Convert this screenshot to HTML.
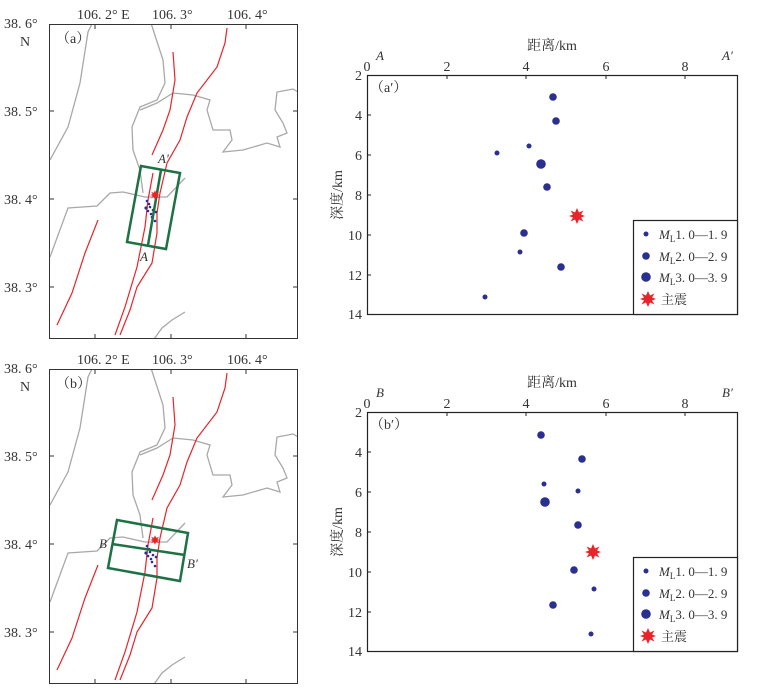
<!DOCTYPE html>
<html><head><meta charset="utf-8"><style>
body{margin:0;background:#fff;}
svg{display:block;font-family:"Liberation Serif","Noto Serif CJK SC",serif;}
</style></head><body>
<svg width="768" height="690" viewBox="0 0 768 690" xmlns="http://www.w3.org/2000/svg">
<defs>
<clipPath id="mc"><rect x="50" y="24" width="248" height="315"/></clipPath>
<g id="map">
  <g clip-path="url(#mc)">
  <g fill="none" stroke="#a8a8a8" stroke-width="1.3">
    <polyline points="94,20 88,32 80,83 68,127 50,160"/>
    <polyline points="150,20 163,60 165,83 157,100 140,107 132,127 133,150 140,170 143,193"/>
    <polyline points="50,257 68,208 97,206 110,193 123,192 145,197 167,197 185,178"/>
    <polyline points="140,110 157,103 173,93 193,95 210,100 207,110 213,130 230,130 232,140 223,152 243,150 267,143 280,147 277,137 287,133 283,123 275,110 277,92 293,89 298,92"/>
    <polyline points="152,342 162,328 172,320 185,312"/>
  </g>
  <g fill="none" stroke="#e8232a" stroke-width="1.2">
    <polyline points="173,52 175,80 170,110 163,130 152,155"/>
    <polyline points="227,28 225,43 217,67 197,93 187,117 180,140 167,163 160,193 157,213 157,233 152,263 137,287 130,310 120,335"/>
    <polyline points="153,173 148,200 145,227 137,267 125,307 115,335"/>
    <polyline points="98,220 85,253 72,293 57,325"/>
  </g>
  </g>
  <g fill="#2b2f8f">
    <circle cx="147" cy="201" r="1.3"/><circle cx="149" cy="204" r="1.3"/><circle cx="146" cy="208" r="1.6"/><circle cx="148" cy="211" r="1.3"/><circle cx="151" cy="214" r="1.3"/><circle cx="153" cy="210" r="1.3"/><circle cx="156" cy="212" r="1.3"/><circle cx="152" cy="217" r="1.3"/><circle cx="155" cy="221" r="1.3"/><circle cx="150" cy="207" r="1.3"/>
  </g>
  <rect x="49.5" y="24.5" width="248" height="314" fill="none" stroke="#333" stroke-width="1"/>
  <g stroke="#333" stroke-width="1">
    <line x1="50" y1="111" x2="54" y2="111"/><line x1="50" y1="199" x2="54" y2="199"/><line x1="50" y1="287" x2="54" y2="287"/>
    <line x1="297" y1="111" x2="293" y2="111"/><line x1="297" y1="199" x2="293" y2="199"/><line x1="297" y1="287" x2="293" y2="287"/>
    <line x1="95" y1="338" x2="95" y2="334"/><line x1="171" y1="338" x2="171" y2="334"/><line x1="246" y1="338" x2="246" y2="334"/>
    <line x1="95" y1="25" x2="95" y2="29"/><line x1="171" y1="25" x2="171" y2="29"/><line x1="246" y1="25" x2="246" y2="29"/>
  </g>
  <g font-size="14" fill="#333">
    <text x="4" y="28">38. 6°</text><text x="20" y="46">N</text>
    <text x="4" y="116">38. 5°</text><text x="4" y="204">38. 4°</text><text x="4" y="292">38. 3°</text>
    <text x="77" y="19">106. 2° E</text><text x="152" y="19">106. 3°</text><text x="227" y="19">106. 4°</text>
  </g>
</g>
<g id="star"><polygon points="0,-8 2,-3.5 6.5,-5.5 4,-1.5 8,0 4,1.5 6.5,5.5 2,3.5 0,8 -2,3.5 -6.5,5.5 -4,1.5 -8,0 -4,-1.5 -6.5,-5.5 -2,-3.5" fill="#e8232a"/></g>
<g id="prof">
  <rect x="367.5" y="75.5" width="370" height="239" fill="none" stroke="#222" stroke-width="1.2"/>
  <g stroke="#222" stroke-width="1">
    <line x1="447" y1="75" x2="447" y2="79"/><line x1="526" y1="75" x2="526" y2="79"/><line x1="606" y1="75" x2="606" y2="79"/><line x1="685" y1="75" x2="685" y2="79"/>
    <line x1="367" y1="115" x2="371" y2="115"/><line x1="367" y1="155" x2="371" y2="155"/><line x1="367" y1="195" x2="371" y2="195"/><line x1="367" y1="235" x2="371" y2="235"/><line x1="367" y1="275" x2="371" y2="275"/>
  </g>
  <g font-size="14" fill="#333">
    <text x="367" y="71" text-anchor="middle">0</text><text x="447" y="71" text-anchor="middle">2</text><text x="526" y="71" text-anchor="middle">4</text><text x="606" y="71" text-anchor="middle">6</text><text x="685" y="71" text-anchor="middle">8</text>
    <g text-anchor="end"><text x="362" y="80">2</text><text x="362" y="120">4</text><text x="362" y="160">6</text><text x="362" y="200">8</text><text x="362" y="240">10</text><text x="362" y="280">12</text><text x="362" y="319">14</text></g>
    <text x="552" y="50" text-anchor="middle">距离/km</text>
    <text transform="translate(342,195) rotate(-90)" text-anchor="middle">深度/km</text>
  </g>
  <rect x="633.5" y="220.5" width="104" height="94" fill="#fff" stroke="#222" stroke-width="1.2"/>
  <g fill="#2b2f8f"><circle cx="646" cy="234" r="2.5"/><circle cx="646" cy="256" r="3.8"/><circle cx="646" cy="277" r="4.8"/></g>
  <use href="#star" x="648" y="299"/>
  <g font-size="13" fill="#333">
    <text x="659" y="239"><tspan font-style="italic">M</tspan><tspan font-size="9" dy="3">L</tspan><tspan dy="-3">1. 0—1. 9</tspan></text>
    <text x="659" y="261"><tspan font-style="italic">M</tspan><tspan font-size="9" dy="3">L</tspan><tspan dy="-3">2. 0—2. 9</tspan></text>
    <text x="659" y="282"><tspan font-style="italic">M</tspan><tspan font-size="9" dy="3">L</tspan><tspan dy="-3">3. 0—3. 9</tspan></text>
    <text x="661" y="304">主震</text>
  </g>
</g>
</defs>

<use href="#map"/>
<g font-size="14" fill="#333"><text x="56" y="43">（a）</text>
<text x="158" y="163" font-style="italic" font-size="13">A′</text><text x="140" y="261" font-style="italic" font-size="13">A</text></g>
<g fill="none" stroke="#1e7145" stroke-width="2.5">
<polygon points="141,166 180,173 166,249 127,242"/><line x1="161" y1="170" x2="148" y2="245"/></g>
<use href="#star" x="155" y="195" transform="translate(155,195) scale(0.6) translate(-155,-195)"/>

<g transform="translate(0,345)">
<use href="#map"/>
<g font-size="14" fill="#333"><text x="56" y="43">（b）</text>
<text x="99" y="203" font-style="italic" font-size="13">B</text><text x="187" y="223" font-style="italic" font-size="13">B′</text></g>
<g fill="none" stroke="#1e7145" stroke-width="2.5">
<polygon points="117,175 188,188 180,236 108,223"/><line x1="112" y1="199" x2="185" y2="210"/></g>
<use href="#star" x="155" y="195" transform="translate(155,195) scale(0.6) translate(-155,-195)"/>
</g>

<use href="#prof"/>
<g font-size="14" fill="#333"><text x="370" y="92">（a′）</text>
<text x="376" y="60" font-style="italic" font-size="13">A</text><text x="722" y="60" font-style="italic" font-size="13">A′</text></g>
<g fill="#2b2f8f">
<circle cx="553" cy="97" r="3.8"/><circle cx="556" cy="121" r="3.8"/><circle cx="529" cy="146" r="2.5"/><circle cx="497" cy="153" r="2.5"/><circle cx="541" cy="164" r="4.8"/><circle cx="547" cy="187" r="3.8"/><circle cx="524" cy="233" r="3.8"/><circle cx="520" cy="252" r="2.5"/><circle cx="561" cy="267" r="3.8"/><circle cx="485" cy="297" r="2.5"/>
</g>
<use href="#star" x="577" y="216"/>

<g transform="translate(0,337)">
<use href="#prof"/>
<g font-size="14" fill="#333"><text x="370" y="92">（b′）</text>
<text x="376" y="60" font-style="italic" font-size="13">B</text><text x="722" y="60" font-style="italic" font-size="13">B′</text></g>
</g>
<g fill="#2b2f8f">
<circle cx="541" cy="435" r="3.8"/><circle cx="582" cy="459" r="3.8"/><circle cx="544" cy="484" r="2.5"/><circle cx="578" cy="491" r="2.5"/><circle cx="545" cy="502" r="4.8"/><circle cx="578" cy="525" r="3.8"/><circle cx="574" cy="570" r="3.8"/><circle cx="594" cy="589" r="2.5"/><circle cx="553" cy="605" r="3.8"/><circle cx="591" cy="634" r="2.5"/>
</g>
<use href="#star" x="593" y="552"/>
</svg>
</body></html>
